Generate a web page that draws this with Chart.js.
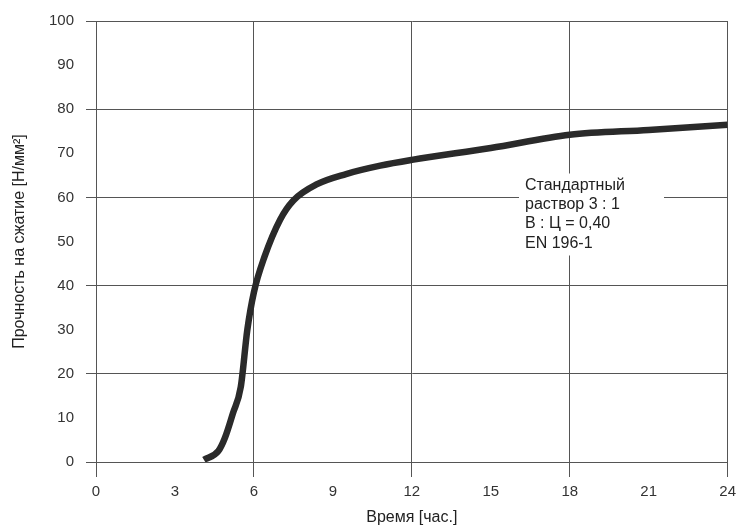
<!DOCTYPE html>
<html>
<head>
<meta charset="utf-8">
<script src="https://cdn.jsdelivr.net/npm/chart.js@4.4.0/dist/chart.umd.min.js"></script>
<style>
html,body{margin:0;padding:0;background:#fff;}
#wrap{width:742px;height:527px;position:relative;}
</style>
</head>
<body>
<div id="wrap"><canvas id="c" width="742" height="527"></canvas></div>
<script>
const timeHours = [4.1, 4.65, 4.9, 5.2, 5.5, 5.75, 6.0, 6.4, 7.0, 7.5, 8.4, 9.5, 10.8, 12, 15, 18, 21, 24];
const strength = [0.5, 2.5, 5.5, 11, 17, 30, 38.5, 46.5, 55, 59.3, 63, 65.3, 67.2, 68.5, 71.2, 74.2, 75.3, 76.5];
const xTitle = 'Время [час.]';
const yTitle = 'Прочность на сжатие [Н/мм²]';
const noteLines = ['Стандартный', 'раствор 3 : 1', 'В : Ц = 0,40', 'EN 196-1'];
const noteAnchor = {x: 16.3, y: 62.7};

const FONT = '"Liberation Sans", Arial, Helvetica, sans-serif';
const GRID = '#555555';

const notePlugin = {
  id: 'note',
  afterDatasetsDraw(chart) {
    const {ctx, scales} = chart;
    const x0 = scales.x.getPixelForValue(noteAnchor.x);
    const y0 = scales.y.getPixelForValue(noteAnchor.y);
    ctx.save();
    ctx.fillStyle = '#ffffff';
    ctx.fillRect(x0 - 6, y0 - 12, 145, 82);
    ctx.fillStyle = '#222222';
    ctx.font = '16px ' + FONT;
    ctx.textBaseline = 'middle';
    ctx.textAlign = 'left';
    noteLines.forEach((t, i) => ctx.fillText(t, x0, y0 + i * 19.3));
    ctx.restore();
  }
};

new Chart(document.getElementById('c'), {
  type: 'line',
  data: {
    datasets: [{
      data: timeHours.map((t, i) => ({x: t, y: strength[i]})),
      borderColor: '#2a2a2a',
      borderWidth: 6.5,
      pointRadius: 0,
      cubicInterpolationMode: 'monotone',
      fill: false,
      borderCapStyle: 'butt',
      borderJoinStyle: 'round'
    }]
  },
  options: {
    responsive: false,
    animation: false,
    devicePixelRatio: 1,
    layout: {padding: {left: 10, right: 14, top: 20, bottom: 0}},
    plugins: {legend: {display: false}, tooltip: {enabled: false}},
    scales: {
      x: {
        type: 'linear', min: 0, max: 24,
        afterFit: s => { s.height = 65; },
        ticks: {stepSize: 3, color: '#333', font: {family: FONT, size: 15}, padding: 6, maxRotation: 0},
        grid: {
          color: c => (c.tick && c.tick.value % 6 === 0) ? GRID : 'rgba(0,0,0,0)',
          lineWidth: 1, tickLength: 15, drawTicks: true
        },
        border: {display: true, color: GRID},
        title: {display: true, text: xTitle, color: '#222', font: {family: FONT, size: 16}, padding: {top: 4, bottom: 0}}
      },
      y: {
        type: 'linear', min: 0, max: 100,
        afterFit: s => { s.width = 86; },
        ticks: {stepSize: 10, color: '#333', font: {family: FONT, size: 15}, padding: 12},
        grid: {
          color: c => (c.tick && c.tick.value % 20 === 0) ? GRID : 'rgba(0,0,0,0)',
          lineWidth: 1, tickLength: 10, drawTicks: true
        },
        border: {display: true, color: GRID},
        title: {display: true, text: yTitle, color: '#222', font: {family: FONT, size: 16}, padding: {top: 0, bottom: 0}}
      }
    }
  },
  plugins: [notePlugin]
});
</script>
</body>
</html>
